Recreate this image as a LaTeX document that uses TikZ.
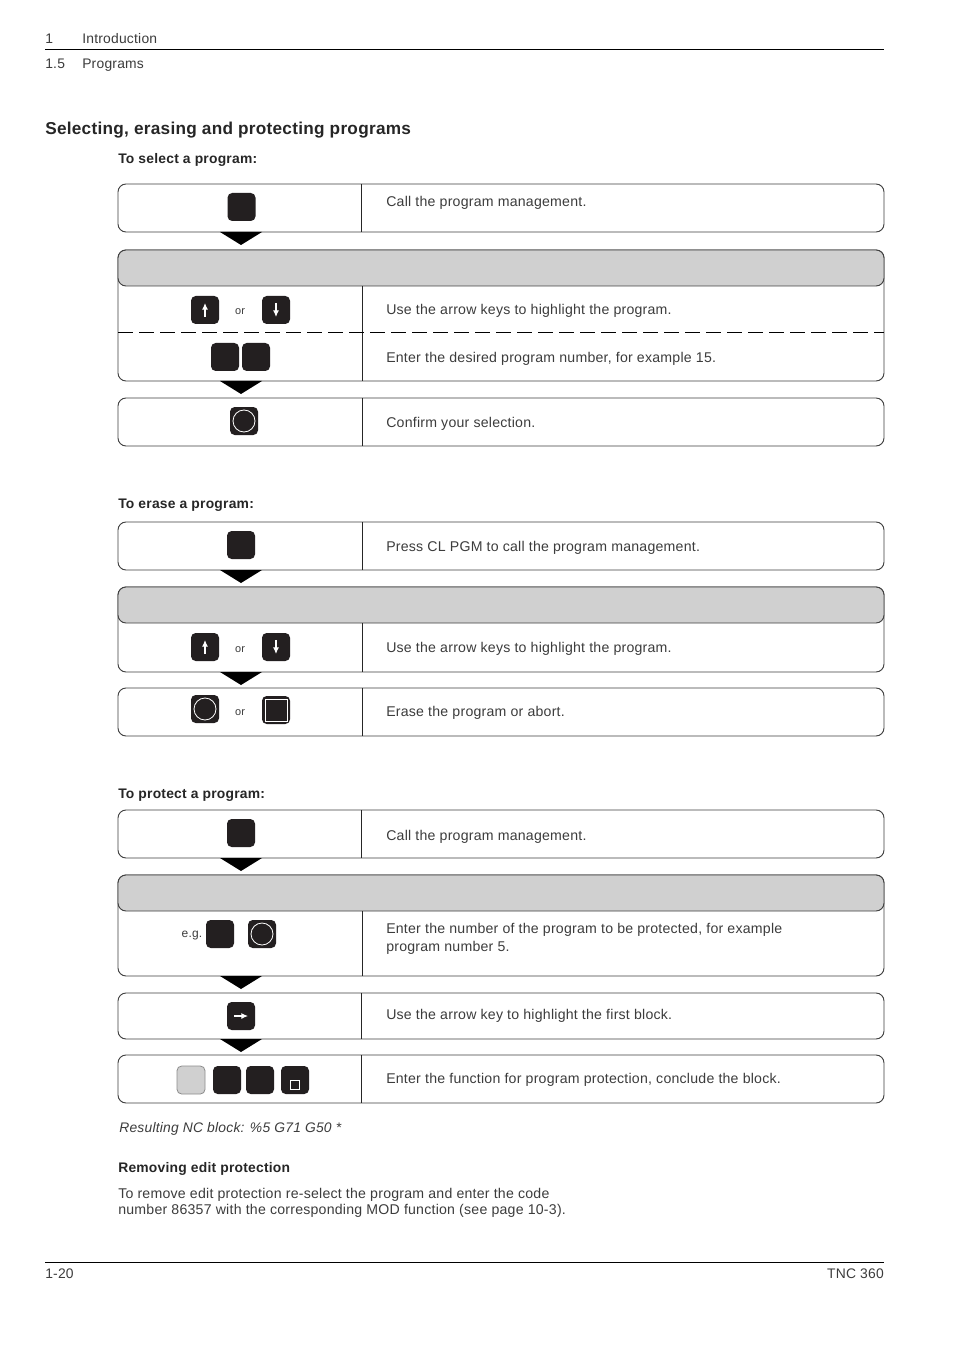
\documentclass[tikz,border=0pt]{standalone}
\usepackage{fontspec}
\setmainfont[LetterSpace=1.6]{Liberation Sans}
\usetikzlibrary{positioning,arrows.meta,calc}
\definecolor{cInk}{HTML}{3C3C3C}
\definecolor{cKey}{HTML}{231F20}
\definecolor{cBand}{HTML}{D0D0D0}
\definecolor{cFrame}{HTML}{404040}
\tikzset{
  rowbox/.style={draw=cFrame,line width=0.7pt,outer sep=0pt,rounded corners=6pt,minimum width=574.5pt,inner sep=0pt},
  bandbox/.style={rowbox,fill=cBand,minimum height=27pt},
  sepline/.style={black!85,line width=0.6pt},
  keybox/.style={fill=cKey,rounded corners=3.5pt,minimum size=21pt,inner sep=0pt},
  lightkey/.style={keybox,fill=cBand,draw=black!45,line width=0.6pt},
  rowtext/.style={anchor=base west,inner sep=0pt,text=cInk,font=\fontsize{10.6}{13.5}\selectfont},
  smalltext/.style={anchor=base,inner sep=0pt,text=cInk,font=\fontsize{8.2}{10}\selectfont},
  headtext/.style={anchor=base west,inner sep=0pt,text=black!85,font=\bfseries\fontsize{10.4}{13}\selectfont},
  pagetext/.style={anchor=base west,inner sep=0pt,text=cInk,font=\fontsize{10.4}{12}\selectfont},
  keyline/.style={white,line width=0.6pt},
  keyarrow/.style={white,line width=0.8pt,-{Latex[length=5pt,width=4.5pt]}},
}
\newcommand{\dropmark}[1]{\fill[black] ($(#1)+(-21,0)$) -- ($(#1)+(21,0)$) -- ($(#1)+(0,13)$) -- cycle;}
\begin{document}
\begin{tikzpicture}[x=0.75pt,y=-0.75pt]
  \useasboundingbox[fill=white] (0,0) rectangle (954,1351);
  \coordinate (mid) at (241,0);
  \coordinate (sepa) at (361,0);
  \coordinate (sepb) at (362,0);

  % page head
  \node[pagetext] (h1) at (45,44) {1};
  \node[pagetext] (h2) at (82,44) {Introduction};
  \node[pagetext] (h3) at (45,69) {1.5};
  \node[pagetext] (h4) at (82,69) {Programs};
  \coordinate (rt1) at (45,49.5);
  \coordinate (rt2) at (884,49.5);
  \draw[black,line width=0.6pt] (rt1) -- (rt2);
  \node[headtext,font=\bfseries\fontsize{12.9}{15}\selectfont] (title) at (45,135) {Selecting, erasing and protecting programs};

  % select
  \node[headtext] (t1) at (118,164) {To select a program:};
  \node[rowbox,minimum height=36pt] (a1) at (501,208) {};
  \node[rowbox,minimum height=98.25pt,below=13.5pt of a1] (a2) {};
  \node[bandbox,anchor=north] (a2b) at (a2.north) {};
  \node[rowbox,minimum height=36pt,below=12.75pt of a2] (a3) {};
  \draw[sepline] (sepa |- a1.north) -- (sepa |- a1.south);
  \draw[sepline] (sepb |- a2b.south) -- (sepb |- a2.south);
  \draw[sepline] (sepb |- a3.north) -- (sepb |- a3.south);
  \coordinate (dl) at (118,332);
  \coordinate (dr) at (884,332);
  \draw[black,line width=0.7pt,dash pattern=on 11.6pt off 4.15pt] (dl) -- (dr);
  \dropmark{mid |- a1.south}
  \dropmark{mid |- a2.south}
  \node[keybox] (k1) at (241.5,207) {};
  \node[keybox] (k2) at (205,310) {};
  \node[keybox] (k3) at (276,310) {};
  \node[keybox] (k4) at (225,357) {};
  \node[keybox] (k5) at (256,357) {};
  \node[keybox] (k6) at (244,421) {};
  \draw[keyarrow] ($(k2.center)+(0,7)$) -- ($(k2.center)+(0,-7)$);
  \draw[keyarrow] ($(k3.center)+(0,-7)$) -- ($(k3.center)+(0,7)$);
  \draw[keyline] (k6.center) circle [radius=11];
  \node[smalltext] (or1) at (240,315) {or};
  \node[rowtext] (x1) at (386,207) {Call the program management.};
  \node[rowtext] (x2) at (386,315) {Use the arrow keys to highlight the program.};
  \node[rowtext] (x3) at (386,363) {Enter the desired program number, for example 15.};
  \node[rowtext] (x4) at (386,427) {Confirm your selection.};

  % erase
  \node[headtext] (t2) at (118,508) {To erase a program:};
  \node[rowbox,minimum height=36pt] (b1) at (501,546) {};
  \node[rowbox,minimum height=63.75pt,below=12.75pt of b1] (b2) {};
  \node[bandbox,anchor=north] (b2b) at (b2.north) {};
  \node[rowbox,minimum height=36pt,below=12pt of b2] (b3) {};
  \draw[sepline] (sepb |- b1.north) -- (sepb |- b1.south);
  \draw[sepline] (sepb |- b2b.south) -- (sepb |- b2.south);
  \draw[sepline] (sepb |- b3.north) -- (sepb |- b3.south);
  \dropmark{mid |- b1.south}
  \dropmark{mid |- b2.south}
  \node[keybox] (k7) at (241,545) {};
  \node[keybox] (k8) at (205,647) {};
  \node[keybox] (k9) at (276,647) {};
  \node[keybox] (k10) at (205,709) {};
  \node[keybox] (k11) at (276,710) {};
  \draw[keyarrow] ($(k8.center)+(0,7)$) -- ($(k8.center)+(0,-7)$);
  \draw[keyarrow] ($(k9.center)+(0,-7)$) -- ($(k9.center)+(0,7)$);
  \draw[keyline] (k10.center) circle [radius=11];
  \draw[keyline,line width=0.5pt] ($(k11.center)+(-11,-11)$) rectangle ($(k11.center)+(11,11)$);
  \node[smalltext] (or2) at (240,652) {or};
  \node[smalltext] (or3) at (240,715) {or};
  \node[rowtext] (x5) at (386,551) {Press CL PGM to call the program management.};
  \node[rowtext] (x6) at (386,652) {Use the arrow keys to highlight the program.};
  \node[rowtext] (x7) at (386,716) {Erase the program or abort.};

  % protect
  \node[headtext] (t3) at (118,798) {To protect a program:};
  \node[rowbox,minimum height=36pt] (c1) at (501,834) {};
  \node[rowbox,minimum height=75.75pt,below=12.75pt of c1] (c2) {};
  \node[bandbox,anchor=north] (c2b) at (c2.north) {};
  \node[rowbox,minimum height=34.5pt,below=12.75pt of c2] (c3) {};
  \node[rowbox,minimum height=36pt,below=12pt of c3] (c4) {};
  \draw[sepline] (sepa |- c1.north) -- (sepa |- c1.south);
  \draw[sepline] (sepb |- c2b.south) -- (sepb |- c2.south);
  \draw[sepline] (sepa |- c3.north) -- (sepa |- c3.south);
  \draw[sepline] (sepa |- c4.north) -- (sepa |- c4.south);
  \dropmark{mid |- c1.south}
  \dropmark{mid |- c2.south}
  \dropmark{mid |- c3.south}
  \node[keybox] (k12) at (241,833) {};
  \node[keybox] (k13) at (220,934) {};
  \node[keybox] (k14) at (262,934) {};
  \node[keybox] (k15) at (241,1016) {};
  \node[lightkey] (k16) at (191,1080) {};
  \node[keybox] (k17) at (227,1080) {};
  \node[keybox] (k18) at (260,1080) {};
  \node[keybox] (k19) at (295,1080) {};
  \draw[keyline] (k14.center) circle [radius=11];
  \draw[keyarrow] ($(k15.center)+(-7,0)$) -- ($(k15.center)+(7,0)$);
  \draw[keyline] ($(k19.center)+(-4.5,0)$) rectangle ($(k19.center)+(4.5,9)$);
  \node[smalltext,font=\fontsize{9}{11}\selectfont] (eg) at (192,937) {e.g.};
  \node[rowtext] (x8) at (386,840) {Call the program management.};
  \node[rowtext,anchor=north west,align=left] (x9) at (386,923) {Enter the number of the program to be protected, for example\\program number 5.};
  \node[rowtext] (x10) at (386,1019) {Use the arrow key to highlight the first block.};
  \node[rowtext] (x11) at (386,1083) {Enter the function for program protection, conclude the block.};

  % notes
  \node[rowtext,font=\itshape\fontsize{10.4}{13}\selectfont] (n1) at (119,1132) {Resulting NC block: \%5 G71 G50 *};
  \node[headtext] (n2) at (118,1172) {Removing edit protection};
  \node[rowtext,anchor=north west,align=left,font=\fontsize{10.6}{12}\selectfont] (n3) at (118,1188) {To remove edit protection re-select the program and enter the code\\number 86357 with the corresponding MOD function (see page 10-3).};

  % page foot
  \coordinate (rb1) at (45,1262);
  \coordinate (rb2) at (884,1262);
  \draw[black,line width=0.6pt] (rb1) -- (rb2);
  \node[pagetext] (f1) at (45,1278) {1-20};
  \node[pagetext,anchor=base east] (f2) at (884,1278) {TNC 360};
\end{tikzpicture}
\end{document}
